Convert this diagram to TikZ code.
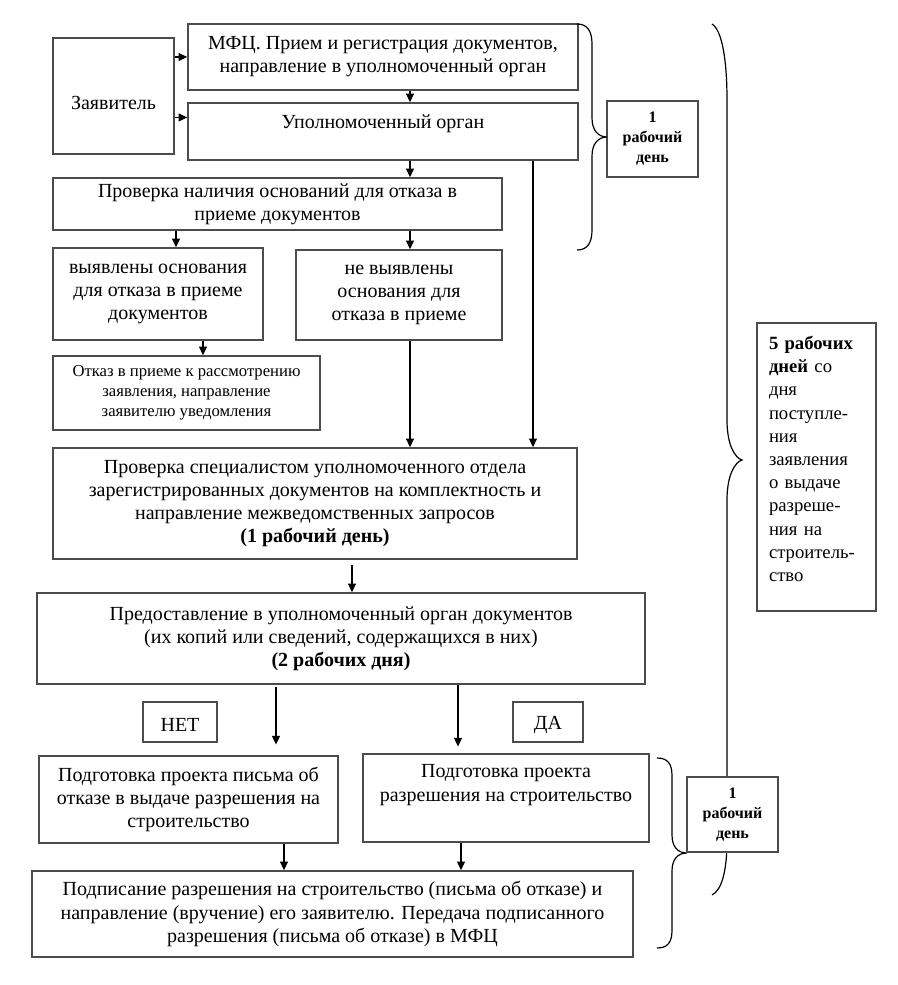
\documentclass[tikz,border=0pt]{standalone}
\usepackage{fontspec}
\setmainfont{Liberation Serif}
\usetikzlibrary{arrows.meta,calc}
\begin{document}
\begin{tikzpicture}[x=0.75pt,y=-0.75pt,
  box/.style={draw=black!70, line width=1.2pt, align=center, inner sep=0pt, fill=white},
  sz/.style 2 args={minimum width=#1*0.75pt, minimum height=#2*0.75pt},
  txt/.style={font=\fontsize{15}{17.4}\selectfont},
  smalltxt/.style={font=\fontsize{12.5}{15}\selectfont},
  daytxt/.style={font=\fontsize{12}{15}\selectfont\bfseries},
  fivetxt/.style={font=\fontsize{14}{17.4}\selectfont},
  arr/.style={-{Triangle[length=6.5pt,width=6pt]}, line width=0.8pt},
  bracestyle/.style={line width=0.9pt}]
\useasboundingbox (0,0) rectangle (898,985);

% columns for vertical connectors
\coordinate (c176) at (176,0);
\coordinate (c203) at (203,0);
\coordinate (c276) at (276,0);
\coordinate (c284) at (284,0);
\coordinate (c352) at (352,0);
\coordinate (c410) at (410,0);
\coordinate (c458) at (458,0);
\coordinate (c461) at (461,0);
\coordinate (c533) at (533,0);

\node[box,txt,sz={121}{116}] (zayav) at (113.5,96) {\rule{0pt}{20.5pt}Заявитель};
\node[box,txt,sz={390}{66}] (mfc) at (383,57) {МФЦ. Прием и регистрация документов,\\направление в уполномоченный орган};
\node[box,txt,sz={390}{57}] (upo) at (383,131.5) {Уполномоченный орган\\[-8pt]\strut};
\node[box,txt,sz={449}{52}] (prov1) at (277.5,204) {Проверка наличия оснований для отказа в\\приеме документов};
\node[box,txt,sz={210}{92}] (vyyav) at (158,294) {выявлены основания\\для отказа в приеме\\документов};
\node[box,txt,sz={206}{90}] (nevyyav) at (399,295) {не выявлены\\основания для\\отказа в приеме};
\node[box,smalltxt,sz={267}{74}] (otkaz) at (186.5,393) {Отказ в приеме к рассмотрению\\заявления, направление\\заявителю уведомления};
\node[box,txt,sz={524}{111}] (prov2) at (315,503.5) {Проверка специалистом уполномоченного отдела\\зарегистрированных документов на комплектность и\\направление межведомственных запросов\\\textbf{(1 рабочий день)}};
\node[box,txt,sz={608}{91}] (predost) at (341,638.5) {Предоставление в уполномоченный орган документов\\(их копий или сведений, содержащихся в них)\\\textbf{(2 рабочих дня)}};
\node[box,txt,sz={74}{40}] (net) at (180,722) {\rule{0pt}{14.5pt}НЕТ};
\node[box,txt,sz={70}{40}] (da) at (548,722) {\rule{0pt}{14.5pt}ДА};
\node[box,txt,sz={299}{87}] (podgPis) at (188.5,799.5) {Подготовка проекта письма об\\отказе в выдаче разрешения на\\строительство};
\node[box,txt,sz={286}{88}] (podgRaz) at (506,798) {Подготовка проекта\\разрешения на строительство\\\strut};
\node[box,txt,sz={601}{86}] (podpis) at (332.5,914) {Подписание разрешения на строительство (письма об отказе) и\\направление (вручение) его заявителю. Передача подписанного\\разрешения (письма об отказе) в МФЦ};
\node[box,daytxt,sz={91}{76}] (day1a) at (652.5,139) {1\\рабочий\\день};

% braces
\draw[bracestyle] (577,24) .. controls (588,24) and (592,32) .. (592,44) -- (592,118)
  .. controls (592,130) and (598,137) .. (607,137)
  .. controls (598,137) and (592,144) .. (592,156) -- (592,230)
  .. controls (592,242) and (588,250) .. (577,250);
\draw[bracestyle] (657,758) .. controls (668,758) and (672,764) .. (672,776) -- (672,835)
  .. controls (672,847) and (678,853) .. (687,853)
  .. controls (678,853) and (672,859) .. (672,871) -- (672,930)
  .. controls (672,942) and (668,948) .. (657,948);
\draw[bracestyle] (712,24) .. controls (722,30) and (727,60) .. (727,100) -- (727,420)
  .. controls (727,445) and (735,458) .. (742,460)
  .. controls (735,462) and (727,475) .. (727,500) -- (727,840)
  .. controls (727,870) and (722,890) .. (712,895);

\node[box,daytxt,sz={91}{75}] (day1b) at (732.5,814.5) {1\\рабочий\\день};
\node[box,fivetxt,sz={119}{288},text width=71.25pt,align=left] (day5) at (816.5,467) {\textbf{5 рабочих}\\\textbf{дней} со\\дня\\поступле-\\ния\\заявления\\о выдаче\\разреше-\\ния на\\строитель-\\ство\\[-5pt]\mbox{}};

% connectors
\coordinate (upoIn) at ($(upo.north west)!0.26!(upo.south west)$);
\draw[arr] (zayav.east |- mfc.west) -- (mfc.west);
\draw[arr] (zayav.east |- upoIn) -- (upoIn);
\draw[arr] (c410 |- mfc.south) -- (c410 |- upo.north);
\draw[arr] (c410 |- upo.south) -- (c410 |- prov1.north);
\draw[arr] (c176 |- prov1.south) -- (c176 |- vyyav.north);
\draw[arr] (c410 |- prov1.south) -- (c410 |- nevyyav.north);
\draw[arr] (c203 |- vyyav.south) -- (c203 |- otkaz.north);
\draw[arr] (c410 |- nevyyav.south) -- (c410 |- prov2.north);
\draw[arr] (c533 |- upo.south) -- (c533 |- prov2.north);
\draw[arr, shorten <=3.75pt] (c352 |- prov2.south) -- (c352 |- predost.north);
\draw[arr, shorten <=2pt, shorten >=8pt] (c276 |- predost.south) -- (c276 |- podgPis.north);
\draw[arr, shorten >=5pt] (c458 |- predost.south) -- (c458 |- podgRaz.north);
\draw[arr] (c284 |- podgPis.south) -- (c284 |- podpis.north);
\draw[arr] (c461 |- podgRaz.south) -- (c461 |- podpis.north);
\end{tikzpicture}
\end{document}
